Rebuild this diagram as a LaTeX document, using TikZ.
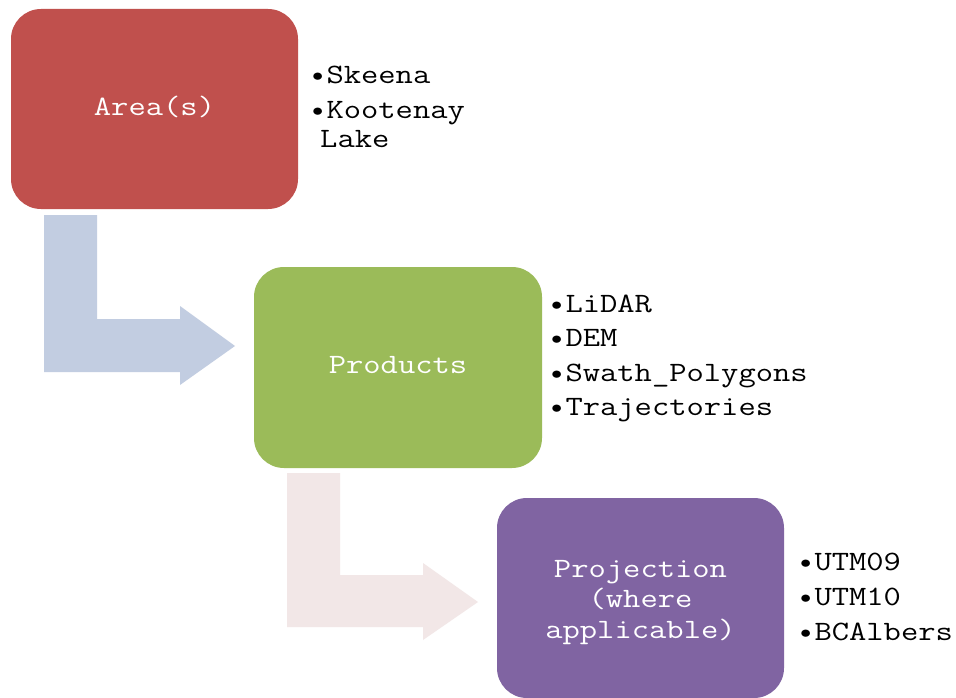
\documentclass[tikz,border=0pt]{standalone}
\usepackage{fontspec}
\usepackage{graphicx}
\definecolor{areared}{HTML}{C0504D}
\definecolor{prodgreen}{HTML}{9BBB59}
\definecolor{projpurple}{HTML}{8064A2}
\definecolor{bluearrow}{HTML}{C2CDE1}
\definecolor{pinkarrow}{HTML}{F2E7E7}
% wide typewriter face used for every label
\newcommand{\typeface}{\ttfamily\fontsize{28}{30.5}\selectfont}
\newcommand{\wide}[1]{\scalebox{1.2}[1]{#1}}
\begin{document}
\begin{tikzpicture}[x=1pt,y=-1pt,
  stagebox/.style={rounded corners=30pt, minimum width=287pt, minimum height=200pt,
    inner sep=0pt},
  stagetext/.style={anchor=base, inner sep=0pt, text=white, font=\typeface},
  itemtext/.style={anchor=base west, inner sep=0pt, text=black, font=\typeface}]
\useasboundingbox (0,0) rectangle (956,698);
\fill[white] (0,0) rectangle (956,698);

% bent block arrows
\fill[bluearrow] (44,215) -- (97,215) -- (97,319) -- (180,319) -- (180,306)
  -- (235,346) -- (180,385) -- (180,372) -- (44,372) -- cycle;
\fill[pinkarrow] (287,473) -- (340,473) -- (340,575) -- (423,575) -- (423,563)
  -- (478,602) -- (423,640) -- (423,627) -- (287,627) -- cycle;

% stages
\node[stagebox, fill=areared] (area) at (154.5,109) {};
\node[stagebox, fill=prodgreen, minimum width=288pt, minimum height=201pt] (prod) at (398,367.5) {};
\node[stagebox, fill=projpurple] (proj) at (640.5,598) {};
\node[stagetext] (arealabel) at (154.5,116) {\wide{Area(s)}};
\node[stagetext] (prodlabel) at (398,373) {\wide{Products}};
\node[stagetext] (projlabel1) at (640.5,577) {\wide{Projection}};
\node[stagetext] (projlabel2) at (640.5,607.5) {\wide{(where}};
\node[stagetext] (projlabel3) at (640.5,638) {\wide{applicable)}};

% item lists
\node[itemtext] (a1) at (309,84) {\wide{•Skeena}};
\node[itemtext] (a2) at (309,119) {\wide{•Kootenay}};
\node[itemtext] (a3) at (320,148) {\wide{Lake}};

\node[itemtext] (p1) at (548,312) {\wide{•LiDAR}};
\node[itemtext] (p2) at (548,346) {\wide{•DEM}};
\node[itemtext] (p3) at (548,381) {\wide{•Swath\_Polygons}};
\node[itemtext] (p4) at (548,415) {\wide{•Trajectories}};

\node[itemtext] (j1) at (797,570) {\wide{•UTM09}};
\node[itemtext] (j2) at (797,605) {\wide{•UTM10}};
\node[itemtext] (j3) at (797,640) {\wide{•BCAlbers}};
\end{tikzpicture}
\end{document}
